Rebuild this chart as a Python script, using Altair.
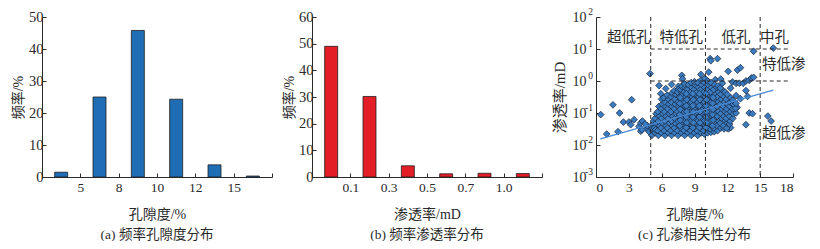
import json
import altair as alt
import pandas as pd

FONT = "Liberation Serif, Noto Sans CJK SC"
INK = "#2a2a2a"

# ---------------- panel (a): porosity frequency ----------------
pore_bins = ["<5", "5-8", "8-10", "10-12", "12-15", ">15"]
pore_freq = [1.5, 25.0, 45.8, 24.3, 3.8, 0.3]
pore_tick_labels = ["5", "8", "10", "12", "15", ""]

# ---------------- panel (b): permeability frequency ----------------
perm_bins = ["<0.1", "0.1-0.3", "0.3-0.5", "0.5-0.7", "0.7-1.0", ">1.0"]
perm_freq = [49.0, 30.2, 4.2, 1.2, 1.4, 1.3]
perm_tick_labels = ["0.1", "0.3", "0.5", "0.7", "1.0", ""]

# ---------------- panel (c): porosity vs permeability ----------------
scatter_outliers = [
    (0.43, 0.089), (0.98, 0.022), (1.55, 0.18), (2.01, 0.026), (2.16, 0.10),
    (2.5, 0.052), (3.0, 0.052), (3.26, 0.26), (3.17, 0.043), (3.48, 0.062),
    (3.93, 0.038), (4.09, 0.027), (4.09, 0.049), (4.24, 0.056), (4.64, 0.032),
    (4.94, 1.7), (4.85, 0.026), (4.7, 0.04), (4.2, 0.03), (4.5, 0.045),
    (5.76, 0.72), (5.92, 0.40), (6.37, 0.58), (6.53, 0.35), (6.9, 0.78),
    (7.3, 0.46), (7.53, 0.68), (7.84, 1.5), (7.9, 1.17), (8.05, 0.83),
    (8.66, 0.58), (8.87, 0.72), (9.58, 1.6), (10.3, 1.9), (10.43, 5.0),
    (10.49, 4.3), (11.1, 5.0), (10.3, 0.93), (10.9, 1.1), (11.4, 1.15),
    (11.55, 0.85), (11.25, 0.6), (12.08, 2.0), (12.47, 0.93), (12.93, 2.2),
    (13.2, 2.6), (12.8, 0.85), (13.1, 0.85), (13.45, 0.85), (13.7, 1.0),
    (14.0, 1.05), (14.2, 1.25), (14.4, 1.3), (14.4, 8.5), (16.2, 10.7),
    (13.7, 0.5), (13.85, 0.33), (14.0, 0.1), (14.3, 0.095), (13.7, 0.043),
    (15.7, 0.08), (16.0, 0.056), (12.3, 0.6), (12.8, 0.35), (13.2, 0.28),
    (12.2, 0.2), (12.9, 0.15), (12.3, 0.09), (12.1, 0.032), (12.3, 0.035),
]

scatter_cluster = [
    (5.1, 0.020), (5.2, 0.028), (5.05, 0.040), (5.25, 0.056), (5.15, 0.033),
    (5.4, 0.024), (5.35, 0.034), (5.5, 0.048), (5.4, 0.068), (5.5, 0.095), (5.45, 0.030),
    (5.7, 0.020), (5.65, 0.028), (5.8, 0.040), (5.7, 0.056), (5.8, 0.079), (5.65, 0.11), (5.75, 0.16),
    (6.0, 0.024), (5.95, 0.034), (6.1, 0.048), (6.0, 0.068), (6.1, 0.095), (5.95, 0.135), (6.05, 0.19), (6.0, 0.27),
    (6.3, 0.020), (6.25, 0.028), (6.4, 0.040), (6.3, 0.056), (6.4, 0.079), (6.25, 0.11), (6.35, 0.16), (6.3, 0.22), (6.2, 0.30),
    (6.6, 0.024), (6.55, 0.034), (6.7, 0.048), (6.6, 0.068), (6.7, 0.095), (6.55, 0.135), (6.65, 0.19), (6.6, 0.27), (6.5, 0.36),
    (6.9, 0.020), (6.85, 0.028), (7.0, 0.040), (6.9, 0.056), (7.0, 0.079), (6.85, 0.11), (6.95, 0.16), (6.9, 0.22), (6.85, 0.32), (6.95, 0.42),
    (7.2, 0.024), (7.15, 0.034), (7.3, 0.048), (7.2, 0.068), (7.3, 0.095), (7.15, 0.135), (7.25, 0.19), (7.2, 0.27), (7.3, 0.38), (7.15, 0.50),
    (7.5, 0.020), (7.45, 0.028), (7.6, 0.040), (7.5, 0.056), (7.6, 0.079), (7.45, 0.11), (7.55, 0.16), (7.5, 0.22), (7.6, 0.32), (7.45, 0.45), (7.55, 0.55),
    (7.8, 0.024), (7.75, 0.034), (7.9, 0.048), (7.8, 0.068), (7.9, 0.095), (7.75, 0.135), (7.85, 0.19), (7.8, 0.27), (7.9, 0.38), (7.75, 0.54), (7.85, 0.68),
    (8.1, 0.020), (8.05, 0.028), (8.2, 0.040), (8.1, 0.056), (8.2, 0.079), (8.05, 0.11), (8.15, 0.16), (8.1, 0.22), (8.2, 0.32), (8.05, 0.45), (8.15, 0.63), (8.1, 0.80),
    (8.4, 0.024), (8.35, 0.034), (8.5, 0.048), (8.4, 0.068), (8.5, 0.095), (8.35, 0.135), (8.45, 0.19), (8.4, 0.27), (8.5, 0.38), (8.35, 0.54), (8.45, 0.76),
    (8.7, 0.020), (8.65, 0.028), (8.8, 0.040), (8.7, 0.056), (8.8, 0.079), (8.65, 0.11), (8.75, 0.16), (8.7, 0.22), (8.8, 0.32), (8.65, 0.45), (8.75, 0.63), (8.7, 0.89),
    (9.0, 0.024), (8.95, 0.034), (9.1, 0.048), (9.0, 0.068), (9.1, 0.095), (8.95, 0.135), (9.05, 0.19), (9.0, 0.27), (9.1, 0.38), (8.95, 0.54), (9.05, 0.76), (9.0, 0.95),
    (9.3, 0.020), (9.25, 0.028), (9.4, 0.040), (9.3, 0.056), (9.4, 0.079), (9.25, 0.11), (9.35, 0.16), (9.3, 0.22), (9.4, 0.32), (9.25, 0.45), (9.35, 0.63), (9.3, 0.89),
    (9.6, 0.024), (9.55, 0.034), (9.7, 0.048), (9.6, 0.068), (9.7, 0.095), (9.55, 0.135), (9.65, 0.19), (9.6, 0.27), (9.7, 0.38), (9.55, 0.54), (9.65, 0.76), (9.6, 1.07),
    (9.9, 0.022), (9.85, 0.028), (10.0, 0.040), (9.9, 0.056), (10.0, 0.079), (9.85, 0.11), (9.95, 0.16), (9.9, 0.22), (10.0, 0.32), (9.85, 0.45), (9.95, 0.63), (9.9, 0.89), (9.95, 1.2),
    (10.2, 0.024), (10.15, 0.034), (10.3, 0.048), (10.2, 0.068), (10.3, 0.095), (10.15, 0.135), (10.25, 0.19), (10.2, 0.27), (10.3, 0.38), (10.15, 0.54), (10.25, 0.76), (10.2, 1.0),
    (10.5, 0.025), (10.45, 0.032), (10.6, 0.040), (10.5, 0.056), (10.6, 0.079), (10.45, 0.11), (10.55, 0.16), (10.5, 0.22), (10.6, 0.32), (10.45, 0.45), (10.55, 0.63), (10.5, 0.89),
    (10.8, 0.026), (10.75, 0.034), (10.9, 0.048), (10.8, 0.068), (10.9, 0.095), (10.75, 0.135), (10.85, 0.19), (10.8, 0.27), (10.9, 0.38), (10.75, 0.54), (10.85, 0.76),
    (11.1, 0.028), (11.05, 0.040), (11.2, 0.056), (11.1, 0.079), (11.2, 0.11), (11.05, 0.16), (11.15, 0.22), (11.1, 0.32), (11.2, 0.45), (11.05, 0.63), (11.15, 0.70),
    (11.4, 0.034), (11.35, 0.048), (11.5, 0.068), (11.4, 0.095), (11.5, 0.135), (11.35, 0.19), (11.45, 0.27), (11.4, 0.38), (11.5, 0.54), (11.35, 0.60),
    (11.7, 0.032), (11.65, 0.040), (11.8, 0.056), (11.7, 0.079), (11.8, 0.11), (11.65, 0.16), (11.75, 0.22), (11.7, 0.32), (11.8, 0.45),
    (11.95, 0.034), (12.0, 0.048), (11.9, 0.068), (12.0, 0.095), (11.95, 0.135), (12.0, 0.19), (11.9, 0.27), (12.0, 0.38),
    (12.2, 0.045), (12.25, 0.056), (12.2, 0.079), (12.3, 0.11), (12.2, 0.16), (12.25, 0.22), (12.3, 0.30),
    (12.5, 0.068), (12.55, 0.095), (12.5, 0.135), (12.55, 0.19), (12.5, 0.25),
    (12.8, 0.10), (12.75, 0.14), (12.8, 0.20),
    (7.65, 0.04), (7.7, 0.06), (7.65, 0.09), (7.7, 0.13), (7.65, 0.2), (7.7, 0.3),
    (8.25, 0.035), (8.3, 0.05), (8.25, 0.075), (8.3, 0.11), (8.25, 0.17), (8.3, 0.26), (8.25, 0.4),
    (8.85, 0.035), (8.9, 0.05), (8.85, 0.075), (8.9, 0.11), (8.85, 0.17), (8.9, 0.26), (8.85, 0.4),
    (9.45, 0.035), (9.5, 0.05), (9.45, 0.075), (9.5, 0.11), (9.45, 0.17), (9.5, 0.26), (9.45, 0.4),
    (10.05, 0.035), (10.1, 0.05), (10.05, 0.075), (10.1, 0.11), (10.05, 0.17), (10.1, 0.26), (10.05, 0.4),
    (10.65, 0.04), (10.7, 0.06), (10.65, 0.09), (10.7, 0.13), (10.65, 0.2), (10.7, 0.3),
]

trend_phi = [0.4, 16.2]
trend_k = [0.0155, 0.52]

class_vlines = [5, 10, 15]
class_hlines = [1, 10]
hline_start = [5, 5]
hline_end = [17.6, 17.6]

zone_labels = ["超低孔", "特低孔", "低孔", "中孔", "特低渗", "超低渗"]
zone_x = [3.0, 7.8, 12.8, 16.3, 17.15, 17.15]
zone_y = [22, 22, 22, 22, 3.2, 0.022]

log_ticks = [0.001, 0.01, 0.1, 1, 10, 100]
log_tick_base = "10"
log_tick_exponents = ["-3", "-2", "-1", "0", "1", "2"]

IN_TICK = alt.ExprRef(expr="-4")
BAR_W = 230
BAND = BAR_W / 6


def bar_panel(bins, freq, tick_labels, color, ymax, ystep, ytitle, xtitle, caption, ytitle_pad):
    df = pd.DataFrame({"bin": bins, "freq": freq})
    label_expr = f"{json.dumps(tick_labels)}[indexof({json.dumps(bins)}, datum.value)]"
    return (
        alt.Chart(df)
        .mark_bar(size=13, color=color, stroke="#1e1e1e", strokeWidth=0.8)
        .encode(
            x=alt.X(
                "bin:N",
                sort=bins,
                scale=alt.Scale(paddingInner=0, paddingOuter=0),
                axis=alt.Axis(
                    title=xtitle, labelAngle=0, labelExpr=label_expr,
                    tickBand="extent", labelOffset=BAND / 2,
                    tickSize=IN_TICK, labelPadding=7, labelFontSize=13.5,
                    titleFontSize=14, titlePadding=14,
                ),
            ),
            y=alt.Y(
                "freq:Q",
                scale=alt.Scale(domain=[0, ymax], nice=False),
                axis=alt.Axis(
                    title=ytitle, values=list(range(0, ymax + 1, ystep)),
                    tickSize=IN_TICK, labelPadding=3, labelFontSize=14.5,
                    titleFontSize=14, titlePadding=ytitle_pad, grid=False,
                ),
            ),
        )
        .properties(
            width=BAR_W, height=160,
            title=alt.TitleParams(caption, orient="bottom", fontSize=13.5, font=FONT,
                                  fontWeight="normal", color=INK, offset=6,
                                  anchor="middle", frame="group"),
        )
    )


panel_a = bar_panel(pore_bins, pore_freq, pore_tick_labels, "#1f6db4", 50, 10,
                    "频率/%", "孔隙度/%", "(a) 频率孔隙度分布", 3)
panel_b = bar_panel(perm_bins, perm_freq, perm_tick_labels, "#e41e26", 60, 10,
                    "频率/%", "渗透率/mD", "(b) 频率渗透率分布", 2)

pts = scatter_outliers + scatter_cluster
sc_df = pd.DataFrame({"phi": [p[0] for p in pts], "k": [p[1] for p in pts]})
xs = alt.Scale(domain=[0, 18], nice=False)
ys = alt.Scale(type="log", domain=[0.001, 100], nice=False)

x_axis_c = alt.Axis(
    title="孔隙度/%", values=list(range(0, 19, 3)), tickSize=IN_TICK,
    labelPadding=7, labelFontSize=13.5, titleFontSize=14, titlePadding=14, grid=False)
y_axis_c = alt.Axis(
    title="渗透率/mD", values=log_ticks, labelExpr=f"'{log_tick_base}'", tickSize=IN_TICK,
    labelPadding=14, labelFontSize=14, titleFontSize=15, titlePadding=5, grid=False)

scatter = alt.Chart(sc_df).mark_point(
    shape="diamond", filled=True, size=46, fill="#3b7bbf", stroke="#15233a",
    strokeWidth=0.7, opacity=1,
).encode(
    x=alt.X("phi:Q", scale=xs, axis=x_axis_c),
    y=alt.Y("k:Q", scale=ys, axis=y_axis_c),
)

vdf = pd.DataFrame({"phi": class_vlines})
vrules = alt.Chart(vdf).mark_rule(color=INK, strokeDash=[4, 3], strokeWidth=1).encode(
    x=alt.X("phi:Q", scale=xs, axis=x_axis_c))

hdf = pd.DataFrame({"k": class_hlines, "phi": hline_start, "phi_end": hline_end})
hrules = alt.Chart(hdf).mark_rule(color=INK, strokeDash=[4, 3], strokeWidth=1).encode(
    y=alt.Y("k:Q", scale=ys, axis=y_axis_c),
    x=alt.X("phi:Q", scale=xs, axis=x_axis_c), x2="phi_end:Q")

tdf = pd.DataFrame({"phi": trend_phi, "k": trend_k})
trend = alt.Chart(tdf).mark_line(color="#4a8ad4", strokeWidth=1.3).encode(
    x=alt.X("phi:Q", scale=xs, axis=x_axis_c), y=alt.Y("k:Q", scale=ys, axis=y_axis_c))

zdf = pd.DataFrame({"t": zone_labels, "phi": zone_x, "k": zone_y})
zones = alt.Chart(zdf).mark_text(font=FONT, fontSize=14.5, color=INK, baseline="middle",
                                 align="center").encode(
    x=alt.X("phi:Q", scale=xs, axis=x_axis_c), y=alt.Y("k:Q", scale=ys, axis=y_axis_c),
    text="t:N")

edf = pd.DataFrame({"k": log_ticks, "e": log_tick_exponents})
exponents = alt.Chart(edf).mark_text(font=FONT, fontSize=9.5, color=INK, align="right",
                                     baseline="middle", dy=-5).encode(
    x=alt.value(-3), y=alt.Y("k:Q", scale=ys, axis=y_axis_c), text="e:N")

panel_c = alt.layer(scatter, vrules, hrules, trend, zones, exponents).properties(
    width=197, height=160,
    title=alt.TitleParams("(c) 孔渗相关性分布", orient="bottom", fontSize=13.5, font=FONT,
                          fontWeight="normal", color=INK, offset=6, anchor="middle",
                          frame="group"),
)

chart = (
    alt.hconcat(panel_a, panel_b, panel_c, spacing=9)
    .properties(padding={"left": 3, "top": -1, "right": 0, "bottom": 0})
    .configure_view(stroke=None)
    .configure_axis(
        domainColor=INK, tickColor=INK, labelColor=INK, titleColor=INK,
        labelFont=FONT, titleFont=FONT, titleFontWeight="normal", domainWidth=1,
    )
)

chart.save("out.html", embed_options={"renderer": "svg", "actions": False})
